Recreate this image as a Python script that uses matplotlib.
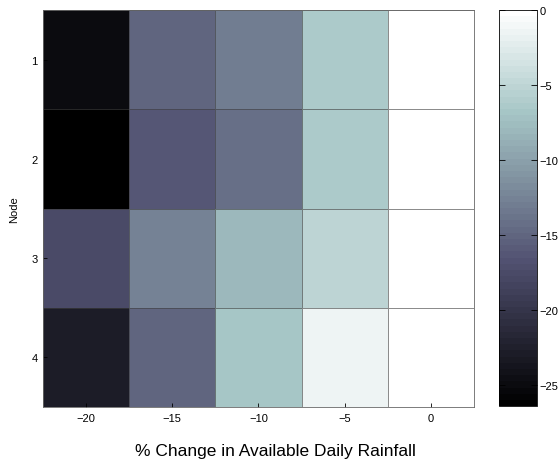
import numpy as np
import matplotlib
matplotlib.use('Agg')
from matplotlib import pyplot as plt

plt.rcParams['font.family'] = ['Liberation Sans', 'DejaVu Sans']
plt.rcParams['axes.unicode_minus'] = True

# % change in rainfall (columns) and nodes (rows)
rain_change = [-20, -15, -10, -5, 0]
nodes = [1, 2, 3, 4]

node1 = [-25.1, -15.2, -12.8, -6.4, 0.0]
node2 = [-26.4, -16.2, -14.1, -6.4, 0.0]
node3 = [-17.6, -12.6, -8.2, -5.0, 0.0]
node4 = [-22.8, -15.2, -6.8, -1.4, 0.0]

cbar_ticks = [-25, -20, -15, -10, -5, 0]

values = np.array([node1, node2, node3, node4])

fig = plt.figure(figsize=(5.6, 4.6), dpi=100)
ax = fig.add_axes([0.077, 0.113, 0.769, 0.863])
cax = fig.add_axes([0.891, 0.115, 0.068, 0.861])

cmap = plt.get_cmap('bone', 64)
x_edges = np.arange(len(rain_change) + 1) - 0.5
y_edges = np.arange(len(nodes) + 1) - 0.5
mesh = ax.pcolormesh(x_edges, y_edges, values, cmap=cmap,
                     vmin=values.min(), vmax=values.max(),
                     edgecolors=(0.25, 0.25, 0.25, 0.6), linewidth=0.6)
ax.set_xlim(-0.5, len(rain_change) - 0.5)
ax.set_ylim(len(nodes) - 0.5, -0.5)

ax.set_xticks(np.arange(len(rain_change)))
ax.set_xticklabels([f'{v:d}'.replace('-', '\u2212') for v in rain_change])
ax.set_yticks(np.arange(len(nodes)))
ax.set_yticklabels([str(n) for n in nodes])
ax.tick_params(direction='in', length=3, labelsize=8, width=0.6)
ax.tick_params(axis='x', pad=4)
ax.tick_params(axis='y', pad=4)
for s in ax.spines.values():
    s.set_linewidth(0.6)
    s.set_color('0.4')

ax.set_ylabel('Node', fontsize=8)
ax.yaxis.set_label_coords(-0.055, 0.5)
ax.set_xlabel('% Change in Available Daily Rainfall', fontsize=12.5)
ax.xaxis.set_label_coords(0.54, -0.09)

cb = fig.colorbar(mesh, cax=cax, ticks=cbar_ticks)
cb.outline.set_linewidth(0.6)
cb.ax.tick_params(direction='in', length=4, labelsize=8, width=0.6,
                  left=True, right=True, pad=2)
cb.ax.set_yticklabels([f'{v:d}'.replace('-', '\u2212') for v in cbar_ticks])

fig.savefig('out.png', dpi=100)
